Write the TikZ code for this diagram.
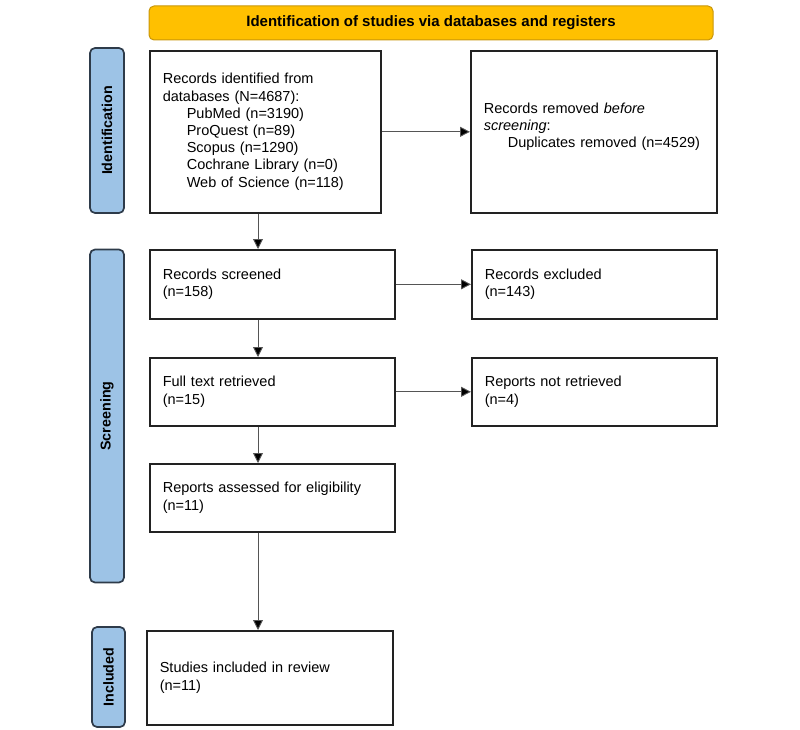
\documentclass[tikz,border=0pt]{standalone}
\usepackage{fontspec}
\setmainfont{Liberation Sans}
\usetikzlibrary{arrows.meta}
\definecolor{hdrfill}{HTML}{FFC000}
\definecolor{hdrdraw}{HTML}{C8960A}
\definecolor{sidefill}{HTML}{9DC3E6}
\definecolor{sidedraw}{HTML}{2E3B4A}
\definecolor{boxdraw}{HTML}{222222}
\definecolor{arrgray}{HTML}{555555}
\begin{document}
\begin{tikzpicture}[x=1pt,y=-1pt,
  font=\fontsize{14.5}{17.2}\selectfont,
  box/.style={draw=boxdraw, line width=1.6pt, fill=white, anchor=north west,
    inner xsep=13pt, align=left},
  hdr/.style={draw=hdrdraw, line width=1pt, fill=hdrfill, rounded corners=5pt,
    font=\fontsize{15}{17}\selectfont\bfseries},
  side/.style={draw=sidedraw, line width=1.7pt, fill=sidefill, rounded corners=5pt,
    rotate=90, font=\fontsize{14.3}{16}\selectfont\bfseries, inner sep=0pt},
  arr/.style={draw=arrgray, line width=0.9pt, -{Triangle[length=10pt,width=10pt,fill=black]}}
]
\useasboundingbox (0,0) rectangle (800,730);

\node[hdr, minimum width=564pt, minimum height=34pt] (hdr) at (431,23) {Identification of studies via databases and registers};

\node[side, minimum width=165pt, minimum height=34pt] (sid) at (107,130.5) {Identification};
\node[side, minimum width=333pt, minimum height=34pt] (ssc) at (107,416) {Screening};
\node[side, minimum width=100pt, minimum height=33pt] (sin) at (108.5,677) {Included};

\node[box, minimum width=231pt, minimum height=162pt, text width=205pt] (b1) at (149,50) {Records identified from\\databases (N=4687):\\\hspace*{24pt}PubMed (n=3190)\\\hspace*{24pt}ProQuest (n=89)\\\hspace*{24pt}Scopus (n=1290)\\\hspace*{24pt}Cochrane Library (n=0)\\\hspace*{24pt}Web of Science (n=118)};
\node[box, minimum width=246pt, minimum height=162pt, text width=220pt] (b2) at (470,50) {Records removed \textit{before}\\\textit{screening}:\\\hspace*{24pt}Duplicates removed (n=4529)\\[-4pt]\mbox{}};

\node[box, minimum width=245pt, minimum height=69pt, text width=219pt] (b3) at (149,249) {Records screened\\(n=158)};
\node[box, minimum width=245pt, minimum height=69pt, text width=219pt] (b4) at (471,249) {Records excluded\\(n=143)};

\node[box, minimum width=245pt, minimum height=68pt, text width=219pt] (b5) at (149,357) {Full text retrieved\\(n=15)};
\node[box, minimum width=245pt, minimum height=68pt, text width=219pt] (b6) at (471,357) {Reports not retrieved\\(n=4)};

\node[box, minimum width=245pt, minimum height=68pt, text width=219pt] (b7) at (149,463) {Reports assessed for eligibility\\(n=11)};

\node[box, minimum width=246pt, minimum height=94pt, text width=220pt] (b8) at (146,630) {Studies included in review\\(n=11)};

\draw[arr] (b1.east) -- (b2.west);
\draw[arr] (b3.east) -- (b4.west);
\draw[arr] (b5.east) -- (b6.west);
\draw[arr] (b1.south -| 258,0) -- (b3.north -| 258,0);
\draw[arr] (b3.south -| 258,0) -- (b5.north -| 258,0);
\draw[arr] (b5.south -| 258,0) -- (b7.north -| 258,0);
\draw[arr] (b7.south -| 258,0) -- (b8.north -| 258,0);
\end{tikzpicture}
\end{document}
